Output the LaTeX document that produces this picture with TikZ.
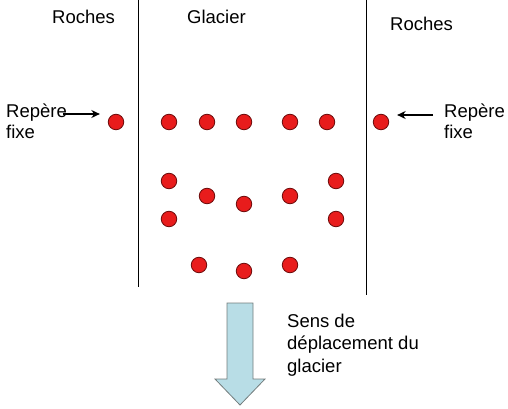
\documentclass[tikz,border=0pt]{standalone}
\usepackage{fontspec}
\setmainfont{Liberation Sans}
\usetikzlibrary{arrows.meta}
\definecolor{dotred}{RGB}{232,28,28}
\definecolor{dotline}{RGB}{110,10,10}
\definecolor{flowblue}{RGB}{184,221,230}
\definecolor{flowline}{RGB}{115,125,125}

\begin{document}
\begin{tikzpicture}[x=1pt,y=-1pt,
      font=\fontsize{18.5}{21}\selectfont,
      lbl/.style={anchor=base west,inner sep=0pt,align=left},
      dot/.style={circle,draw=dotline,fill=dotred,line width=0.8pt,
                  minimum size=15.5pt,inner sep=0pt},
      wall/.style={line width=1pt},
      arr/.style={-{Stealth[length=8.5pt,width=8pt]},line width=2pt}]
    \useasboundingbox (0,0) rectangle (508,409);
    % rock walls
    \coordinate (wLt) at (138,0); \coordinate (wLb) at (138,287);
    \coordinate (wRt) at (366,0); \coordinate (wRb) at (366,295);
    \draw[wall] (wLt)--(wLb); \draw[wall] (wRt)--(wRb);
    % titles
    \node[lbl] (rochesL) at (52,24) {Roches};
    \node[lbl] (glacier) at (187,24) {Glacier};
    \node[lbl] (rochesR) at (390,31) {Roches};
    % fixed marks (base = last line)
    \node[dot] (fixL) at (116,122) {};
    \node[dot] (fixR) at (381,122) {};
    \node[lbl] (repL) at (6,139) {Repère\\fixe};
    \node[lbl] (repR) at (444,139) {Repère\\fixe};
    \coordinate (aL) at (63,114); \coordinate (aR) at (433,115);
    \draw[arr,shorten >=8pt] (aL)--(aL-|fixL.west);
    \draw[arr,shorten >=8pt] (aR)--(aR-|fixR.east);
    % glacier marks
    \foreach \x [count=\i] in {169,207,244,290,327}
      \node[dot] (a\i) at (\x,122) {};
    \foreach \x/\y [count=\i] in {169/181,207/196,244/204,290/196,336/181}
      \node[dot] (b\i) at (\x,\y) {};
    \node[dot] (c1) at (169,219) {};
    \node[dot] (c2) at (336,219) {};
    \foreach \x/\y [count=\i] in {199/265,244/271,290/265}
      \node[dot] (e\i) at (\x,\y) {};
    % flow direction
    \draw[fill=flowblue,draw=flowline,line width=0.8pt]
      (227,303)--(253,303)--(253,379)--(265,379)--(240,405)
      --(215,379)--(227,379)--cycle;
    \node[lbl] (sens) at (287,372) {Sens de\\[1.5pt]déplacement du\\[1.5pt]glacier};
  \end{tikzpicture}
\end{document}
